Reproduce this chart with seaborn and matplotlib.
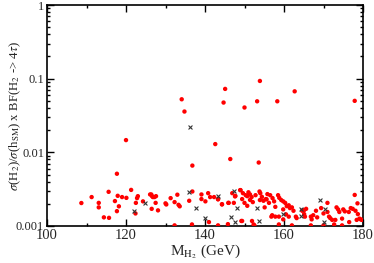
import matplotlib
matplotlib.use("Agg")
import matplotlib.pyplot as plt
import seaborn as sns
import pandas as pd
from matplotlib.ticker import MultipleLocator, LogLocator, FixedLocator, FixedFormatter, NullFormatter

# --- data (mass in GeV, ratio x1000) ---
red_mass = [134.1, 134.8, 144.7, 145.1, 150.0, 153.2, 153.9, 158.3, 162.7, 177.9,
            120.0, 142.6, 146.4, 153.6, 136.8, 117.7,
            108.7, 111.3, 113.1, 113.1, 114.4, 115.6, 115.7, 117.2, 117.7, 117.9,
            118.2, 119.0, 120.1, 121.3, 122.5, 122.8, 123.0, 122.4, 124.3, 126.1,
            126.4, 126.6, 126.8, 127.2, 126.5, 127.5, 127.6, 128.1, 130.0, 130.2,
            131.3, 132.3, 133.0, 133.3, 133.6, 136.0, 136.8, 139.1, 139.1, 140.1,
            140.8, 141.3, 142.3, 143.3, 144.3, 145.9, 147.7, 147.3, 149.0, 149.4,
            150.0, 132.3, 136.7, 141.0, 143.3, 145.8, 149.2, 151.9,
            149.6, 150.3, 150.7, 151.0, 151.4, 151.4, 151.8, 150.7, 152.1, 153.8,
            153.9, 154.4, 154.8, 155.1, 155.4, 155.8, 156.5, 157.1, 157.5, 157.8,
            158.5, 158.8, 159.3, 159.8, 160.3, 160.7, 161.2, 161.5, 162.0, 162.4,
            159.8, 158.7, 156.8, 157.0, 157.8, 160.5, 161.2, 163.0, 163.2, 159.8,
            164.6, 165.1, 165.6, 165.1, 165.3, 166.8, 167.0, 167.4, 168.1, 168.4,
            169.4, 170.0, 171.0, 171.0, 171.4, 171.7, 172.2, 173.0, 173.3, 173.7,
            174.0, 174.7, 175.0, 175.4, 176.4, 176.9, 177.4, 177.9, 178.1, 178.6,
            178.7, 179.1, 179.4, 179.7, 178.4,
            149.4, 152.3, 152.5, 158.7, 162.0, 166.8, 170.0, 174.7, 172.7, 176.5,
            143.3, 144.3, 146.0, 147.6, 148.9, 155.6, 156.2, 146.9, 152.8, 154.0]
red_ratio = [52.5, 35.8, 47.4, 72.6, 40.6, 49.3, 93.1, 49.3, 67.3, 50.0,
             14.66, 12.94, 8.11, 7.27, 6.61, 5.12,
             2.05, 2.47, 2.06, 1.79, 1.31, 2.91, 1.29, 2.18, 1.59, 2.57,
             1.85, 2.47, 2.41, 3.09, 2.06, 2.39, 2.54, 1.48, 2.16, 2.68,
             2.68, 2.54, 2.47, 2.47, 1.71, 2.06, 2.54, 1.63, 2.03, 1.96,
             2.39, 2.11, 2.66, 1.94, 1.85, 2.20, 2.94, 2.68, 2.32, 2.16,
             2.79, 2.47, 2.47, 2.32, 1.98, 2.06, 2.56, 2.06, 3.07, 2.32,
             2.06, 1.02, 1.05, 1.13, 1.02, 1.06, 1.17, 1.17,
             2.79, 2.62, 2.54, 2.87, 2.68, 2.26, 2.47, 1.88, 2.11, 2.94,
             2.25, 2.49, 2.20, 1.79, 2.32, 2.71, 2.62, 2.39, 2.16, 1.82,
             2.62, 2.41, 2.25, 2.16, 2.06, 1.86, 1.91, 1.75, 1.79, 1.61,
             1.68, 1.34, 1.34, 1.40, 1.34, 1.44, 1.34, 1.34, 1.28, 1.23,
             1.61, 1.64, 1.71, 1.45, 1.34, 1.34, 1.23, 1.40, 1.61, 1.31,
             1.75, 1.48, 2.06, 1.55, 1.34, 1.28, 1.21, 1.21, 1.79, 1.68,
             1.55, 1.26, 1.68, 1.58, 1.55, 1.75, 1.71, 2.64, 1.61, 2.03,
             1.45, 1.26, 1.23, 1.21, 1.21,
             1.17, 1.05, 1.02, 1.05, 1.02, 1.02, 1.02, 1.02, 1.05, 1.13,
             2.30, 1.96, 2.06, 2.52, 3.07, 2.30, 2.06, 2.79, 2.62, 2.79]

cross_mass = [136.3, 122.1, 124.9, 136.0, 137.8, 143.3, 140.1, 147.3, 148.0,
              153.1, 146.7, 147.7, 153.6, 159.7, 164.2, 164.2, 169.0, 170.5, 170.0]
cross_ratio = [22.2, 1.58, 2.03, 2.88, 1.73, 2.58, 1.27, 2.94, 1.73,
               1.75, 1.31, 1.15, 1.17, 1.44, 1.70, 1.36, 2.22, 1.68, 1.15]

x_ticks = [100, 120, 140, 160, 180]
y_ticks = [0.001, 0.01, 0.1, 1]
y_tick_labels = ["0.001", "0.01", "0.1", "1"]

red_df = pd.DataFrame({"m": red_mass, "r": [v / 1000 for v in red_ratio]})
cross_df = pd.DataFrame({"m": cross_mass, "r": [v / 1000 for v in cross_ratio]})

sns.set_style("ticks")
plt.rcParams["font.family"] = ["Liberation Serif", "DejaVu Serif"]
plt.rcParams["mathtext.fontset"] = "stix"

fig = plt.figure(figsize=(3.74, 2.63), dpi=100)
ax = fig.add_axes([47 / 374, 1 - 226 / 263, 316 / 374, 221 / 263])

sns.scatterplot(data=red_df, x="m", y="r", ax=ax, color="#ff0000", s=10,
                edgecolor="none", marker="o", legend=False, zorder=3)
sns.scatterplot(data=cross_df, x="m", y="r", ax=ax, color="#333333", s=8,
                marker="x", linewidth=0.8, legend=False, zorder=4)

ax.set_yscale("log")
ax.set_xlim(100, 180)
ax.set_ylim(0.001, 1)
ax.xaxis.set_major_locator(FixedLocator(x_ticks))
ax.xaxis.set_minor_locator(MultipleLocator(10))
ax.yaxis.set_major_locator(FixedLocator(y_ticks))
ax.yaxis.set_major_formatter(FixedFormatter(y_tick_labels))
ax.yaxis.set_minor_locator(LogLocator(base=10, subs=range(2, 10)))
ax.yaxis.set_minor_formatter(NullFormatter())

ax.tick_params(which="both", direction="in", top=True, right=True, width=1, color="black")
ax.tick_params(which="major", length=5)
ax.tick_params(which="minor", length=2.5)
ax.tick_params(axis="x", labelsize=10.5, pad=2)
ax.tick_params(axis="y", labelsize=9, pad=2)
for s in ax.spines.values():
    s.set_linewidth(1.2)
    s.set_color("black")

ax.set_xlabel(r"M$_{\mathrm{H}_2}$ (GeV)", fontsize=11, labelpad=1)
ax.set_ylabel(r"$\sigma$(H$_2$)/$\sigma$(h$_{\mathrm{SM}}$) x BF(H$_2$ -> 4$\tau$)",
              fontsize=9.2)
ax.yaxis.set_label_coords(-0.075, 0.5)

fig.savefig("out.png", dpi=100)
